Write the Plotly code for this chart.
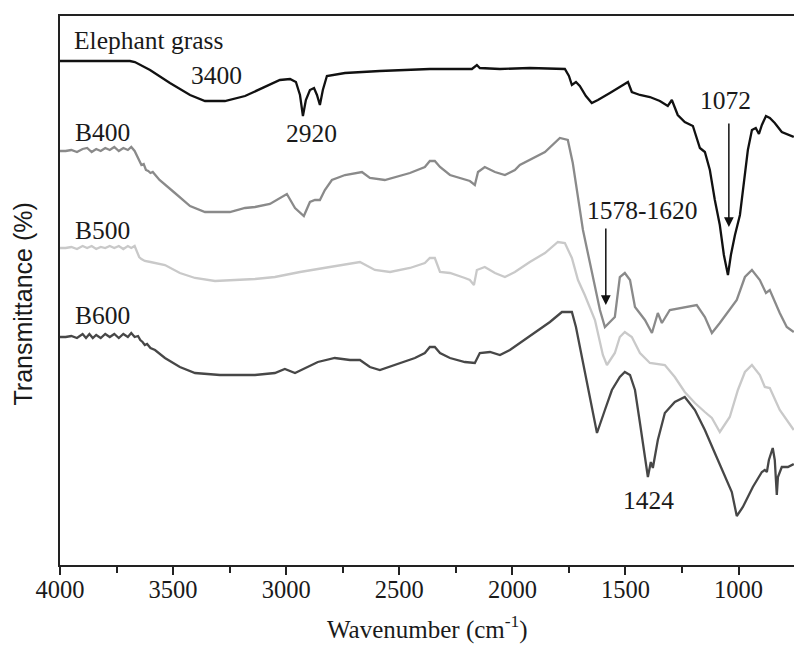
import plotly.graph_objects as go

# ---------------- data (wavenumber in cm^-1, transmittance in arbitrary offset units) -------------
wn_eg = [4000, 3823, 3691, 3669, 3602, 3514, 3425, 3359, 3271, 3182, 3094, 3028, 2983, 2957, 2939,
         2926, 2913, 2895, 2877, 2864, 2851, 2838, 2820, 2740, 2586, 2497, 2365, 2276, 2179, 2157,
         2144, 2055, 1923, 1768, 1750, 1737, 1719, 1702, 1675, 1649, 1622, 1569, 1525, 1489, 1472,
         1436, 1392, 1348, 1313, 1295, 1269, 1238, 1202, 1171, 1149, 1127, 1105, 1083, 1065, 1047,
         1034, 1016, 994, 972, 959, 941, 924, 910, 897, 879, 862, 840, 809, 756]
t_eg = [504, 504, 504, 503, 495, 482, 470, 464, 464, 469, 478, 485, 486, 483, 470,
        449, 465, 475, 477, 470, 460, 475, 489, 492, 494, 495, 496, 496, 496, 500,
        497, 496, 497, 496, 489, 480, 483, 479, 469, 462, 465, 472, 478, 483, 473,
        470, 468, 464, 459, 465, 450, 443, 439, 417, 413, 395, 365, 340, 310, 290,
        310, 330, 350, 390, 415, 435, 437, 431, 440, 449, 447, 442, 433, 428]

wn_b400 = [4000, 3975, 3950, 3925, 3900, 3880, 3860, 3840, 3820, 3800, 3780, 3760, 3740, 3720,
           3700, 3685, 3670, 3660, 3650, 3640, 3630, 3620, 3610, 3600, 3590, 3575, 3560,
           3492, 3425, 3359, 3249, 3182, 3138, 3072, 3028, 2997, 2961, 2922, 2895, 2873, 2851,
           2829, 2798, 2740, 2665, 2630, 2564, 2453, 2387, 2365, 2343, 2320, 2276, 2210, 2188,
           2166, 2152, 2122, 2077, 2033, 1989, 1967, 1923, 1856, 1790, 1755, 1733, 1710, 1688,
           1657, 1635, 1613, 1591, 1547, 1525, 1503, 1480, 1458, 1414, 1383, 1357, 1339, 1304,
           1238, 1185, 1149, 1118, 1083, 1039, 1008, 972, 941, 906, 879, 862, 818, 787, 756]
t_b400 = [414, 414, 415, 413, 416, 417, 413, 416, 414, 417, 415, 418, 414, 417,
          415, 418, 414, 409, 404, 400, 401, 395, 394, 392, 393, 389, 385,
          372, 359, 353, 353, 357, 358, 361, 367, 371, 357, 349, 363, 365, 365,
          375, 385, 390, 393, 387, 385, 392, 398, 404, 404, 398, 390, 385, 384,
          380, 393, 398, 393, 390, 395, 400, 405, 413, 427, 425, 402, 368, 335,
          302, 278, 255, 238, 248, 288, 292, 285, 258, 245, 232, 252, 242, 255,
          258, 260, 248, 232, 242, 255, 265, 288, 295, 285, 272, 275, 252, 238, 233]

wn_b500 = [4000, 3975, 3950, 3925, 3900, 3880, 3860, 3840, 3820, 3800, 3780, 3760, 3740, 3720,
           3700, 3685, 3670, 3660, 3650, 3640, 3625, 3600, 3536, 3470, 3403, 3315, 3204, 3138,
           3050, 2939, 2807, 2674, 2608, 2541, 2453, 2387, 2365, 2343, 2320, 2276, 2210, 2188,
           2170, 2157, 2122, 2077, 2033, 1989, 1923, 1856, 1799, 1768, 1737, 1710, 1680, 1635,
           1600, 1582, 1547, 1525, 1503, 1472, 1436, 1392, 1326, 1282, 1238, 1193, 1149, 1118,
           1083, 1039, 1003, 972, 941, 906, 884, 862, 818, 756]
t_b500 = [317, 317, 318, 316, 319, 317, 319, 316, 318, 317, 319, 317, 319, 316,
          319, 317, 319, 314, 308, 306, 304, 303, 300, 292, 287, 284, 285, 286,
          288, 293, 298, 303, 295, 293, 297, 302, 307, 307, 293, 292, 287, 285,
          280, 295, 298, 292, 288, 293, 303, 312, 323, 322, 307, 285, 270, 245,
          210, 200, 212, 228, 233, 228, 212, 202, 200, 188, 173, 162, 153, 147,
          133, 148, 175, 193, 200, 190, 178, 177, 155, 135]

wn_b600 = [4000, 3975, 3950, 3925, 3900, 3885, 3870, 3855, 3840, 3820, 3800, 3780, 3760, 3740,
           3720, 3700, 3685, 3670, 3655, 3645, 3635, 3625, 3615, 3600, 3580, 3536, 3470, 3403,
           3293, 3138, 3050, 3006, 2961, 2917, 2860, 2785, 2718, 2674, 2630, 2586, 2519, 2431,
           2387, 2365, 2343, 2320, 2276, 2210, 2166, 2144, 2099, 2055, 2011, 1967, 1901, 1834,
           1781, 1737, 1719, 1702, 1688, 1671, 1649, 1626, 1591, 1560, 1525, 1503, 1480, 1458,
           1436, 1414, 1401, 1388, 1379, 1357, 1326, 1282, 1238, 1193, 1149, 1105, 1061, 1030,
           1008, 981, 937, 897, 884, 875, 866, 849, 840, 831, 826, 809, 782, 756]
t_b600 = [228, 228, 229, 227, 231, 227, 231, 227, 230, 227, 231, 228, 231, 227,
          231, 228, 232, 228, 229, 225, 223, 220, 221, 217, 215, 207, 198, 192,
          190, 190, 192, 196, 192, 197, 203, 207, 205, 205, 198, 195, 200, 207,
          212, 218, 218, 212, 207, 203, 202, 212, 213, 210, 215, 222, 232, 243,
          253, 253, 238, 218, 202, 182, 158, 132, 155, 175, 188, 193, 190, 175,
          142, 105, 88, 103, 97, 125, 152, 163, 168, 155, 135, 112, 88, 73,
          49, 58, 78, 93, 95, 93, 105, 117, 105, 70, 88, 98, 98, 101]

series_names = ["Elephant grass", "B400", "B500", "B600"]
series_colors = ["#111111", "#8a8a8a", "#c9c9c9", "#474747"]

tick_vals = [4000, 3500, 3000, 2500, 2000, 1500, 1000]
tick_text = ["4000", "3500", "3000", "2500", "2000", "1500", "1000"]

# ---------------- figure -------------
SERIF = "Liberation Serif"
SANS = "Liberation Sans"

fig = go.Figure()
for name, xs, ys, col in zip(series_names,
                             [wn_eg, wn_b400, wn_b500, wn_b600],
                             [t_eg, t_b400, t_b500, t_b600],
                             series_colors):
    fig.add_trace(go.Scatter(x=xs, y=ys, mode="lines", name=name,
                             line=dict(color=col, width=2.3), showlegend=False))

labels = [
    dict(text="Elephant grass", x=3947, y=525, xanchor="left"),
    dict(text="B400", x=3943, y=433, xanchor="left"),
    dict(text="B500", x=3943, y=335, xanchor="left"),
    dict(text="B600", x=3943, y=250, xanchor="left"),
    dict(text="3400", x=3310, y=490, xanchor="center"),
    dict(text="2920", x=2886, y=432, xanchor="center"),
    dict(text="1072", x=1056, y=465, xanchor="center"),
    dict(text="1578-1620", x=1423, y=355, xanchor="center"),
    dict(text="1424", x=1397, y=65, xanchor="center"),
]
for lab in labels:
    fig.add_annotation(text=lab["text"], x=lab["x"], y=lab["y"], xref="x", yref="y",
                       xanchor=lab["xanchor"], yanchor="middle", showarrow=False,
                       font=dict(family=SERIF, size=25.5, color="#1a1a1a"))

# arrows
for ax_, ay_, x_, y_ in [(1043, 443, 1043, 338), (1587, 338, 1587, 260)]:
    fig.add_annotation(x=x_, y=y_, ax=ax_, ay=ay_, xref="x", yref="y", axref="x", ayref="y",
                       text="", showarrow=True, arrowhead=2, arrowsize=1.3, arrowwidth=1.5,
                       arrowcolor="#111111")

# axis titles as annotations
fig.add_annotation(text="Wavenumber (cm<sup>-1</sup>)", x=0.5, y=-0.113, xref="paper",
                   yref="paper", xanchor="center", yanchor="middle", showarrow=False,
                   font=dict(family=SERIF, size=25, color="#1a1a1a"))
fig.add_annotation(text="Transmittance (%)", x=-0.05, y=0.475, xref="paper", yref="paper",
                   xanchor="center", yanchor="middle", showarrow=False, textangle=-90,
                   font=dict(family=SANS, size=25, color="#1a1a1a"))

fig.update_layout(
    width=794, height=646,
    margin=dict(l=60, r=0, t=16, b=81),
    paper_bgcolor="white", plot_bgcolor="white",
    font=dict(family=SERIF, size=24, color="#1a1a1a"),
    xaxis=dict(range=[4000, 755], tickvals=tick_vals, ticktext=tick_text,
               ticks="outside", ticklen=8, tickwidth=2, tickcolor="#222",
               ticklabelstandoff=-6,
               showline=True, linecolor="#222", linewidth=2, mirror=True,
               showgrid=False, zeroline=False,
               tickfont=dict(family=SERIF, size=24.5, color="#1a1a1a"),
               minor=dict(dtick=250, tick0=0, ticks="outside", ticklen=6, tickwidth=2,
                          tickcolor="#222", showgrid=False)),
    yaxis=dict(range=[0, 549], showticklabels=False, ticks="",
               showline=True, linecolor="#222", linewidth=2, mirror=False,
               showgrid=False, zeroline=False),
)

fig.write_html("out.html")
